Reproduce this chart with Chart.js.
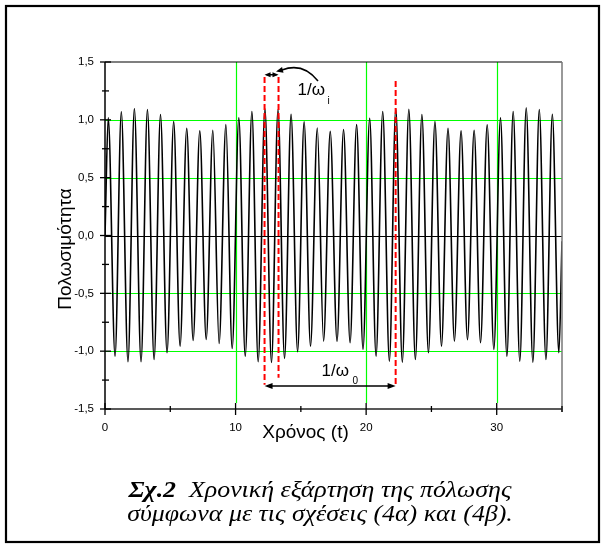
<!DOCTYPE html>
<html><head><meta charset="utf-8">
<script src="https://cdn.jsdelivr.net/npm/chart.js@4.4.0/dist/chart.umd.min.js"></script>
<style>
html,body{margin:0;padding:0;background:#fff;}
#wrap{position:relative;width:603px;height:546px;overflow:hidden;}
canvas{position:absolute;left:0;top:0;}
</style></head><body>
<div id="wrap"><canvas id="c" width="603" height="546"></canvas></div>
<script>
// ---- data ----
const peakT = [0.25,1.25,2.25,3.25,4.25,5.26,6.26,7.26,8.26,9.26,
  10.25,11.25,12.25,13.25,14.25,15.25,16.26,17.25,18.27,19.27,
  20.27,21.27,22.27,23.27,24.27,25.27,26.27,27.27,28.27,29.27,
  30.29,31.26,32.26,33.26,34.26];
const peakP = [1.017,1.070,1.098,1.089,1.046,0.985,0.927,0.905,0.910,0.959,
  1.017,1.072,1.098,1.089,1.048,0.983,0.930,0.900,0.916,0.959,
  1.014,1.072,1.098,1.092,1.046,0.985,0.927,0.905,0.910,0.957,
  1.017,1.072,1.104,1.089,1.048];
const troughT = [0.77,1.76,2.76,3.76,4.75,5.75,6.75,7.75,8.74,9.74,
  10.74,11.73,12.75,13.75,14.75,15.74,16.74,17.77,18.77,19.76,
  20.76,21.78,22.77,23.77,24.77,25.77,26.76,27.76,28.76,29.78,
  30.78,31.77,32.77,33.77,34.76];
const troughP = [-1.043,-1.092,-1.092,-1.072,-1.014,-0.957,-0.907,-0.899,-0.934,-0.977,
  -1.043,-1.092,-1.098,-1.063,-1.005,-0.957,-0.913,-0.915,-0.927,-0.985,
  -1.043,-1.086,-1.095,-1.072,-1.014,-0.957,-0.913,-0.900,-0.927,-0.985,
  -1.043,-1.086,-1.095,-1.072,-1.014];
const edgeT = [0, 35];
const edgeP = [0.0, -0.05];

const xTickValues = [0,5,10,15,20,25,30,35];
const xTickLabels = ['0','','10','','20','','30',''];
const yTickValues = [-1.5,-1,-0.5,0,0.5,1,1.5];
const yTickLabels = ['-1,5','-1,0','-0,5','0,0','0,5','1,0','1,5'];
const yMinorValues = [-1.25,-0.75,-0.25,0.25,0.75,1.25];
const gridX = [10,20,30];
const gridY = [-1,-0.5,0.5,1];

// annotation (data units)
const markT = [12.22, 13.29, 22.26];
const markTop = [1.37, 1.37, 1.335];
const markBot = [-1.29, -1.23, -1.29];
const periodArrowY = -1.302;
const omegaIArrowY = 1.39;

const yTitle = 'Πολωσιμότητα';
const xTitle = 'Χρόνος (t)';
const capBold = 'Σχ.2';
const capLine1 = 'Χρονική εξάρτηση της πόλωσης';
const capLine2 = 'σύμφωνα με τις σχέσεις (4α) και (4β).';

// ---- build points ----
const pts = [];
edgeT.forEach((t,i)=>pts.push({x:t,y:edgeP[i]}));
peakT.forEach((t,i)=>pts.push({x:t,y:peakP[i]}));
troughT.forEach((t,i)=>pts.push({x:t,y:troughP[i]}));
pts.sort((a,b)=>a.x-b.x);

const SANS = '"Liberation Sans", Arial, sans-serif';
const SERIF = '"Liberation Serif", "Times New Roman", serif';

function arrowHead(ctx, x, y, dx, dy, len, half){
  const L = Math.hypot(dx,dy); const ux=dx/L, uy=dy/L;
  ctx.beginPath();
  ctx.moveTo(x,y);
  ctx.lineTo(x-ux*len-uy*half, y-uy*len+ux*half);
  ctx.lineTo(x-ux*len+uy*half, y-uy*len-ux*half);
  ctx.closePath(); ctx.fill();
}

const deco = {
  id:'deco',
  beforeDatasetsDraw(chart){
    const ctx = chart.ctx, a = chart.chartArea;
    const xs = chart.scales.x, ys = chart.scales.y;
    ctx.save();
    ctx.strokeStyle = '#00ff00'; ctx.lineWidth = 1.2;
    gridY.forEach(v=>{
      const y = Math.round(ys.getPixelForValue(v))+0.5;
      ctx.beginPath(); ctx.moveTo(a.left,y); ctx.lineTo(a.right,y); ctx.stroke();
    });
    gridX.forEach(v=>{
      const x = Math.round(xs.getPixelForValue(v))+0.5;
      ctx.beginPath(); ctx.moveTo(x,a.top); ctx.lineTo(x,a.bottom-6); ctx.stroke();
    });
    ctx.strokeStyle = '#000'; ctx.lineWidth = 1.2;
    const y0 = Math.round(ys.getPixelForValue(0))+0.5;
    ctx.beginPath(); ctx.moveTo(a.left,y0); ctx.lineTo(a.right,y0); ctx.stroke();
    ctx.restore();
  },
  afterDatasetsDraw(chart){
    const ctx = chart.ctx, a = chart.chartArea;
    const xs = chart.scales.x, ys = chart.scales.y;
    const px = v=>xs.getPixelForValue(v), py = v=>ys.getPixelForValue(v);
    ctx.save();
    // outer frame
    ctx.strokeStyle = '#000'; ctx.lineWidth = 2.2;
    ctx.strokeRect(6,6,593,536);
    // axes box
    ctx.lineWidth = 1.5; ctx.strokeStyle = '#000';
    ctx.beginPath(); ctx.moveTo(a.left,a.top); ctx.lineTo(a.left,a.bottom); ctx.stroke();
    ctx.strokeStyle = '#222';
    ctx.beginPath(); ctx.moveTo(a.left,a.bottom); ctx.lineTo(a.right,a.bottom); ctx.stroke();
    ctx.strokeStyle = '#000'; ctx.lineWidth = 1.2;
    ctx.beginPath(); ctx.moveTo(a.left,a.top); ctx.lineTo(a.right,a.top); ctx.stroke();
    ctx.strokeStyle = '#777'; ctx.lineWidth = 1.5;
    ctx.beginPath(); ctx.moveTo(a.right,a.top); ctx.lineTo(a.right,a.bottom+3); ctx.stroke();
    // ticks
    ctx.strokeStyle = '#000'; ctx.lineWidth = 1.3;
    yTickValues.forEach(v=>{ const y=py(v); ctx.beginPath(); ctx.moveTo(a.left-5,y); ctx.lineTo(a.left+6,y); ctx.stroke(); });
    yMinorValues.forEach(v=>{ const y=py(v); ctx.beginPath(); ctx.moveTo(a.left-3,y); ctx.lineTo(a.left+4,y); ctx.stroke(); });
    xTickValues.forEach(v=>{ const x=px(v); const major = v%10===0;
      ctx.beginPath(); ctx.moveTo(x,a.bottom-(major?6:3)); ctx.lineTo(x,a.bottom+(major?6:3)); ctx.stroke(); });
    // red dashed markers
    ctx.strokeStyle = '#ff0000'; ctx.lineWidth = 2; ctx.setLineDash([6,3]);
    markT.forEach((t,i)=>{ const x=px(t); ctx.beginPath(); ctx.moveTo(x,py(markTop[i])); ctx.lineTo(x,py(markBot[i])); ctx.stroke(); });
    ctx.setLineDash([]);
    // arrows
    ctx.strokeStyle='#000'; ctx.fillStyle='#000'; ctx.lineWidth=1.5;
    let x1=px(markT[0]), x2=px(markT[2]), y=py(periodArrowY);
    ctx.beginPath(); ctx.moveTo(x1+3,y); ctx.lineTo(x2-3,y); ctx.stroke();
    arrowHead(ctx,x1,y,-1,0,8,3); arrowHead(ctx,x2,y,1,0,8,3);
    x1=px(markT[0]); x2=px(markT[1]); y=py(omegaIArrowY);
    ctx.beginPath(); ctx.moveTo(x1+2,y); ctx.lineTo(x2-2,y); ctx.stroke();
    arrowHead(ctx,x1,y,-1,0,6,2.5); arrowHead(ctx,x2,y,1,0,6,2.5);
    // curved arrow
    ctx.beginPath(); ctx.moveTo(318,81); ctx.quadraticCurveTo(303,62,282,70); ctx.stroke();
    arrowHead(ctx,276,71.5,-1,0.25,7,3);
    // labels 1/ω
    ctx.fillStyle='#000'; ctx.textBaseline='alphabetic'; ctx.textAlign='left';
    ctx.font = '17px '+SANS; ctx.fillText('1/ω',297.5,95);
    ctx.font = '10px '+SANS; ctx.fillText('i',327.5,103.5);
    ctx.font = '17px '+SANS; ctx.fillText('1/ω',321.5,376);
    ctx.font = '10px '+SANS; ctx.fillText('0',352.5,384);
    // axis titles
    ctx.font = '19px '+SANS; ctx.textAlign='center';
    ctx.fillText(xTitle,305.5,438);
    ctx.save(); ctx.translate(71,249); ctx.rotate(-Math.PI/2); ctx.fillText(yTitle,0,0); ctx.restore();
    // caption (slightly stretched horizontally, as in the original figure)
    ctx.textAlign='left';
    const FS = 22.5, SX = 1.15;
    ctx.font = 'italic bold '+FS+'px '+SERIF;
    const wB = ctx.measureText(capBold+'  ').width;
    ctx.font = 'italic '+FS+'px '+SERIF;
    const w1 = ctx.measureText(capLine1).width;
    const w2 = ctx.measureText(capLine2).width;
    const cx = 320;
    ctx.save(); ctx.translate(cx,0); ctx.scale(SX,1);
    let sx = -(wB+w1)/2;
    ctx.font = 'italic bold '+FS+'px '+SERIF; ctx.fillText(capBold,sx,497);
    ctx.font = 'italic '+FS+'px '+SERIF; ctx.fillText(capLine1,sx+wB,497);
    ctx.fillText(capLine2,-w2/2,521);
    ctx.restore();
    ctx.restore();
  }
};

new Chart(document.getElementById('c'),{
  type:'line',
  data:{datasets:[{data:pts,borderColor:'#000',borderWidth:1.6,pointRadius:0,fill:false,cubicInterpolationMode:'monotone'}]},
  options:{
    responsive:false, animation:false, devicePixelRatio:1,
    layout:{padding:{top:62,right:41,left:0,bottom:0}},
    plugins:{legend:{display:false},tooltip:{enabled:false}},
    scales:{
      x:{type:'linear',min:0,max:35,
        afterFit(s){s.height=137;},
        afterBuildTicks(s){s.ticks=xTickValues.map(v=>({value:v}));},
        ticks:{autoSkip:false,maxRotation:0,padding:12,color:'#000',font:{family:SANS,size:11.5},
          callback:(v)=>{const i=xTickValues.indexOf(v);return i>=0?xTickLabels[i]:'';}},
        grid:{display:false,drawTicks:false},border:{display:false}},
      y:{type:'linear',min:-1.5,max:1.5,
        afterFit(s){s.width=105;},
        afterBuildTicks(s){s.ticks=yTickValues.map(v=>({value:v}));},
        ticks:{autoSkip:false,padding:11,color:'#000',font:{family:SANS,size:11.5},
          callback:(v)=>{const i=yTickValues.indexOf(v);return i>=0?yTickLabels[i]:'';}},
        grid:{display:false,drawTicks:false},border:{display:false}}
    }
  },
  plugins:[deco]
});
</script>
</body></html>
